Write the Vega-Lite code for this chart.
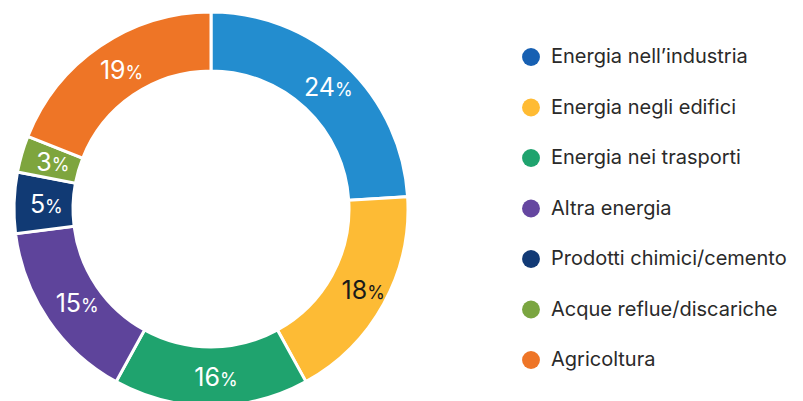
{
  "$schema": "https://vega.github.io/schema/vega-lite/v6.json",
  "padding": {"left": 0, "top": 0, "right": 0, "bottom": -17},
  "spacing": 0,
  "background": "white",
  "config": {"view": {"stroke": null}},
  "datasets": {
    "shares": [
      {"cat": "Energia nell’industria", "value": 24, "ord": 1},
      {"cat": "Energia negli edifici", "value": 18, "ord": 2},
      {"cat": "Energia nei trasporti", "value": 16, "ord": 3},
      {"cat": "Altra energia", "value": 15, "ord": 4},
      {"cat": "Prodotti chimici/cemento", "value": 5, "ord": 5},
      {"cat": "Acque reflue/discariche", "value": 3, "ord": 6},
      {"cat": "Agricoltura", "value": 19, "ord": 7}
    ]
  },
  "hconcat": [
    {
      "width": 422,
      "height": 418,
      "data": {"name": "shares"},
      "encoding": {
        "theta": {"field": "value", "type": "quantitative", "stack": true},
        "order": {"field": "ord", "type": "quantitative"}
      },
      "layer": [
        {
          "mark": {"type": "arc", "outerRadius": 197, "innerRadius": 138, "stroke": "white", "strokeWidth": 3},
          "encoding": {
            "color": {
              "field": "cat", "type": "nominal", "legend": null,
              "scale": {
                "domain": ["Energia nell’industria", "Energia negli edifici", "Energia nei trasporti", "Altra energia", "Prodotti chimici/cemento", "Acque reflue/discariche", "Agricoltura"],
                "range": ["#238DCF", "#FDBB35", "#1FA36E", "#5E449B", "#113A74", "#7EA53E", "#EE7526"]
              }
            }
          }
        },
        {
          "mark": {"type": "text", "radius": 168, "font": "Inter", "fontSize": 25, "align": "right", "baseline": "alphabetic", "dy": 9, "dx": {"expr": "datum.value >= 10 ? 9 : 2"}},
          "encoding": {
            "text": {"field": "value", "type": "quantitative"},
            "color": {"condition": {"test": "datum.cat === 'Energia negli edifici'", "value": "#1a1a1a"}, "value": "white"}
          }
        },
        {
          "mark": {"type": "text", "radius": 168, "font": "Inter", "fontSize": 18, "align": "left", "baseline": "alphabetic", "dy": 9, "dx": {"expr": "datum.value >= 10 ? 9 : 2"}, "text": "%"},
          "encoding": {
            "color": {"condition": {"test": "datum.cat === 'Energia negli edifici'", "value": "#1a1a1a"}, "value": "white"}
          }
        }
      ]
    },
    {
      "width": 218,
      "height": 418,
      "data": {"name": "shares"},
      "encoding": {
        "y": {
          "field": "cat", "type": "nominal", "axis": null, "sort": {"field": "ord"},
          "scale": {"type": "point", "range": [57, 360], "padding": 0}
        }
      },
      "layer": [
        {
          "mark": {"type": "point", "filled": true, "size": 320, "opacity": 1},
          "encoding": {
            "color": {
              "field": "cat", "type": "nominal", "legend": null,
              "scale": {
                "domain": ["Energia nell’industria", "Energia negli edifici", "Energia nei trasporti", "Altra energia", "Prodotti chimici/cemento", "Acque reflue/discariche", "Agricoltura"],
                "range": ["#1760B2", "#FFBB33", "#1FA36E", "#6546A0", "#123A75", "#7AA540", "#EE7527"]
              }
            }
          }
        },
        {
          "mark": {"type": "text", "align": "left", "baseline": "middle", "dx": 20, "font": "Inter", "fontSize": 20, "color": "#2a2a2a"},
          "encoding": {"text": {"field": "cat", "type": "nominal"}}
        }
      ],
      "resolve": {"scale": {"color": "independent"}}
    }
  ],
  "resolve": {"scale": {"color": "independent"}}
}
